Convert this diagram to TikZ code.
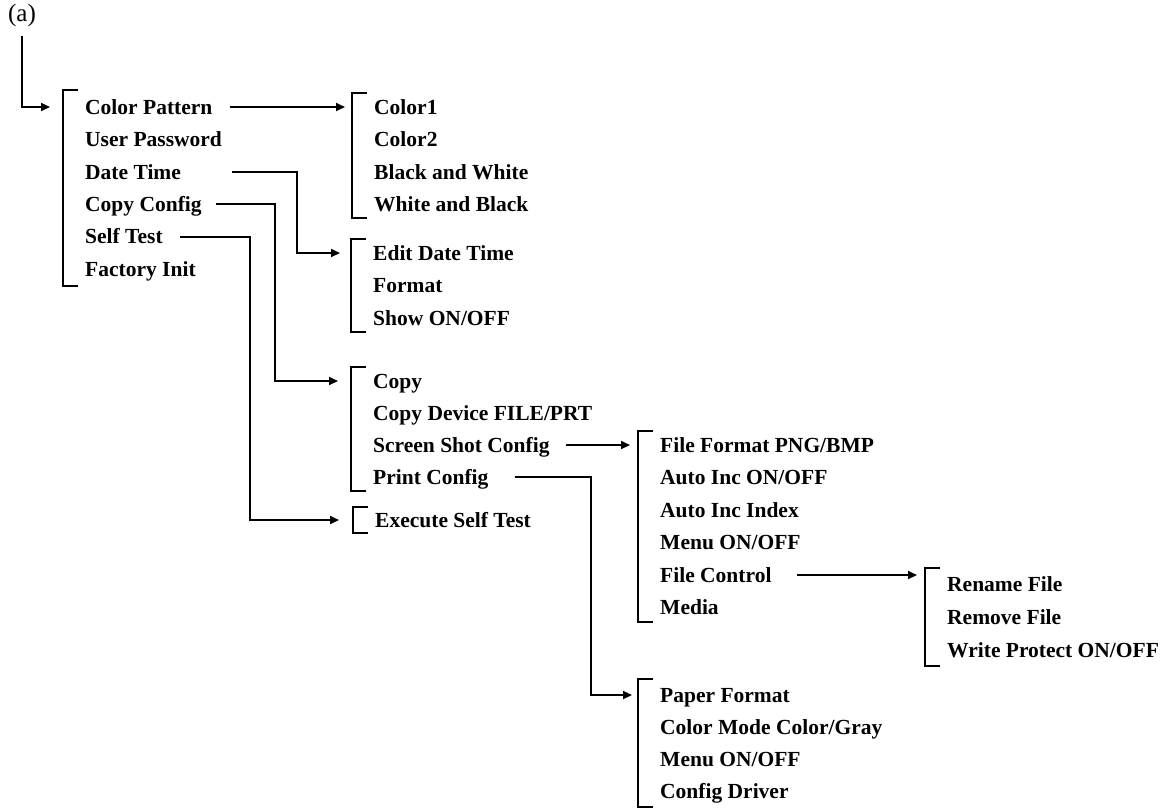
\documentclass[tikz,border=0pt]{standalone}
\usepackage{fontspec}
\setmainfont{Liberation Serif}
\usetikzlibrary{positioning,arrows.meta,fit}
\tikzset{
  >={Triangle[length=9pt,width=8pt]},
  item/.style={anchor=west,inner sep=0pt,text height=14pt,text depth=0pt,
    font=\fontsize{21.5}{25}\selectfont\bfseries},
  tag/.style={inner sep=0pt,font=\fontsize{25}{29}\selectfont},
  grp/.style={inner xsep=22pt,inner ysep=7pt},
  brk/.style={line width=2pt},
  link/.style={->,line width=2pt},
}

\begin{document}
\begin{tikzpicture}[x=1pt,y=-1pt]
  \useasboundingbox (0,0) rectangle (1174,807);
  \node[tag] (lbl) at (22,15) {(a)};
  % main menu
  \node[item] (colpat) at (85,107) {Color Pattern};
  \node[item] (userpw) at (85,139.5) {User Password};
  \node[item] (datetime) at (85,172) {Date Time};
  \node[item] (copycfg) at (85,204) {Copy Config};
  \node[item] (selftest) at (85,236.5) {Self Test};
  \node[item] (factory) at (85,269) {Factory Init};
  % sub menus
  \node[item] (col1) at (374,107) {Color1};
  \node[item] (col2) at (374,139.5) {Color2};
  \node[item] (bw) at (374,172) {Black and White};
  \node[item] (wb) at (374,204) {White and Black};
  \node[item] (editdt) at (373,253) {Edit Date Time};
  \node[item] (fmt) at (373,285.5) {Format};
  \node[item] (showdt) at (373,318) {Show ON/OFF};
  \node[item] (copy) at (373,381) {Copy};
  \node[item] (copydev) at (373,413) {Copy Device FILE/PRT};
  \node[item] (scrshot) at (373,445) {Screen Shot Config};
  \node[item] (prtcfg) at (373,477) {Print Config};
  \node[item] (exec) at (375,520) {Execute Self Test};
  \node[item] (ffmt) at (660,445) {File Format PNG/BMP};
  \node[item] (autoinc) at (660,477.5) {Auto Inc ON/OFF};
  \node[item] (autoidx) at (660,510) {Auto Inc Index};
  \node[item] (menua) at (660,542.5) {Menu ON/OFF};
  \node[item] (filectl) at (660,575) {File Control};
  \node[item] (media) at (660,607.5) {Media};
  \node[item] (rename) at (947,584) {Rename File};
  \node[item] (remove) at (947,617) {Remove File};
  \node[item] (wprot) at (947,650) {Write Protect ON/OFF};
  \node[item] (paper) at (660,695) {Paper Format};
  \node[item] (colmode) at (660,727) {Color Mode Color/Gray};
  \node[item] (menub) at (660,759) {Menu ON/OFF};
  \node[item] (cfgdrv) at (660,791) {Config Driver};

  \node[grp,inner ysep=10pt,fit=(colpat)(factory)] (topgrp) {};
  \node[grp,fit=(col1)(wb)] (colgrp) {};
  \node[grp,fit=(editdt)(showdt)] (dategrp) {};
  \node[grp,fit=(copy)(prtcfg)] (copygrp) {};
  \node[grp,inner ysep=6pt,fit=(exec)] (execgrp) {};
  \node[grp,fit=(ffmt)(media)] (shotgrp) {};
  \node[grp,inner ysep=9pt,fit=(rename)(wprot)] (filegrp) {};
  \node[grp,inner ysep=9pt,fit=(paper)(cfgdrv)] (papergrp) {};
  \foreach \g in {topgrp,colgrp,dategrp,copygrp,execgrp,shotgrp,filegrp,papergrp}
    \draw[brk] ([xshift=15pt]\g.north west) -- (\g.north west)
      -- (\g.south west) -- ([xshift=15pt]\g.south west);

  \draw[link] ([yshift=-9pt]lbl.south) |- ([xshift=-35]colpat.west);
  \draw[link] ([xshift=17]colpat.east) -- ([xshift=-29]col1.west);
  \draw[link] ([xshift=51]datetime.east) -- ++(65,0) |- ([xshift=-33]editdt.west);
  \draw[link] ([xshift=14]copycfg.east) -- ++(59,0) |- ([xshift=-35]copy.west);
  \draw[link] ([xshift=17]selftest.east) -- ++(70,0) |- ([xshift=-36]exec.west);
  \draw[link] ([xshift=16]scrshot.east) -- ([xshift=-30]ffmt.west);
  \draw[link] ([xshift=26]prtcfg.east) -- ++(76,0) |- ([xshift=-28]paper.west);
  \draw[link] ([xshift=25]filectl.east) -- ([xshift=-30]filectl.east -| rename.west);
\end{tikzpicture}
\end{document}
